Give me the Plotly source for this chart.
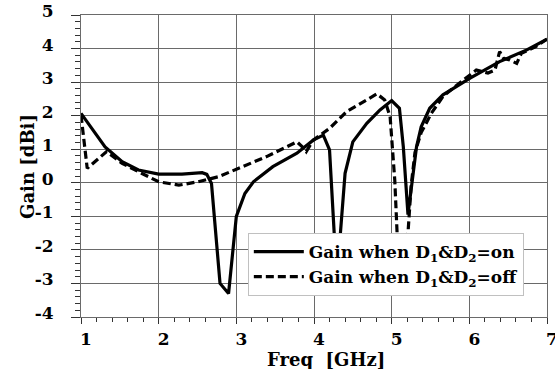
import plotly.graph_objects as go

# Gain when D1&D2 = on (solid)
freq_on = [1.0, 1.14, 1.31, 1.53, 1.74, 2.0, 2.3, 2.56, 2.62, 2.68, 2.79, 2.9, 3.0, 3.11, 3.22,
           3.47, 3.78, 3.99, 4.12, 4.20, 4.26, 4.29, 4.34, 4.40, 4.50, 4.68, 4.85, 5.0, 5.10,
           5.15, 5.21, 5.32, 5.38, 5.49, 5.66, 6.01, 6.39, 6.74, 7.0]
gain_on = [2.07, 1.62, 1.07, 0.63, 0.38, 0.26, 0.26, 0.30, 0.25, -0.02, -3.0, -3.3, -1.0, -0.32, 0.03,
           0.48, 0.88, 1.27, 1.42, 0.98, -1.5, -2.3, -1.5, 0.28, 1.22, 1.77, 2.17, 2.45, 2.22,
           1.07, -0.95, 1.07, 1.67, 2.22, 2.62, 3.12, 3.61, 3.96, 4.28]

# Gain when D1&D2 = off (dashed)
freq_off = [1.0, 1.08, 1.33, 1.53, 1.74, 2.0, 2.26, 2.51, 2.77, 3.03, 3.39, 3.78, 3.86, 3.90, 3.99,
            4.20, 4.42, 4.81, 4.91, 4.98, 5.04, 5.07, 5.13, 5.21, 5.25, 5.30, 5.38, 5.45, 5.51,
            5.66, 5.79, 6.09, 6.24, 6.33, 6.39, 6.44, 6.52, 6.61, 6.67, 6.85, 7.0]
gain_off = [2.02, 0.43, 0.93, 0.58, 0.33, 0.03, -0.07, 0.03, 0.18, 0.43, 0.78, 1.22, 1.05, 0.93, 1.27,
            1.62, 2.12, 2.65, 2.47, 1.97, 0.08, -1.5, -2.0, -1.5, -0.1, 0.9, 1.5, 1.8, 2.07,
            2.57, 2.82, 3.36, 3.27, 3.36, 3.91, 3.71, 3.66, 3.56, 3.86, 4.05, 4.28]

x_ticks = [1, 2, 3, 4, 5, 6, 7]
y_ticks = [-4, -3, -2, -1, 0, 1, 2, 3, 4, 5]

legend_on = "<b>Gain when D<sub>1</sub>&D<sub>2</sub>=on</b>"
legend_off = "<b>Gain when D<sub>1</sub>&D<sub>2</sub>=off</b>"
x_title = "<b>Freq  [GHz]</b>"
y_title = "<b>Gain [dBi]</b>"

FONT = "DejaVu Serif"
GRID = "#6a6a6a"

fig = go.Figure()
fig.add_trace(go.Scatter(x=freq_on, y=gain_on, mode="lines", name=legend_on,
                         line=dict(color="black", width=3.2)))
fig.add_trace(go.Scatter(x=freq_off, y=gain_off, mode="lines", name=legend_off,
                         line=dict(color="black", width=3.2, dash="8px,4px")))

fig.update_layout(
    width=555, height=369,
    margin=dict(l=81, r=8, t=15, b=52, autoexpand=False),
    paper_bgcolor="white", plot_bgcolor="white",
    font=dict(family=FONT, size=17, color="black"),
    showlegend=True,
    legend=dict(x=0.358, y=0.278, xanchor="left", yanchor="top",
                bgcolor="white", bordercolor="#c0c0c0", borderwidth=1,
                font=dict(family=FONT, size=17, color="black"),
                itemwidth=50, tracegroupgap=0),
    annotations=[
        dict(text=x_title, xref="paper", yref="paper", x=0.5258, y=-0.142,
             xanchor="center", yanchor="middle", showarrow=False,
             font=dict(family=FONT, size=18, color="black")),
        dict(text=y_title, xref="paper", yref="paper", x=-0.116, y=0.5,
             xanchor="center", yanchor="middle", showarrow=False, textangle=-90,
             font=dict(family=FONT, size=18, color="black")),
    ],
)

fig.update_xaxes(range=[1, 7], tickvals=x_ticks, ticktext=[f"<b>{v}</b>" for v in x_ticks],
                 automargin=False,
                 showgrid=True, gridcolor=GRID, gridwidth=1,
                 showline=True, linecolor=GRID, linewidth=1, mirror=True,
                 ticks="outside", ticklen=6, tickcolor="#333", tickwidth=1,
                 ticklabelshift=5, ticklabelstandoff=1, ticklabeloverflow="allow",
                 minor=dict(dtick=0.2, ticks="outside", ticklen=4, tickcolor="#333", showgrid=False),
                 zeroline=False, tickfont=dict(family=FONT, size=17))
fig.update_yaxes(range=[-4, 5], tickvals=y_ticks, ticktext=[f"<b>{v}</b>" for v in y_ticks],
                 automargin=False,
                 showgrid=True, gridcolor=GRID, gridwidth=1,
                 showline=True, linecolor=GRID, linewidth=1, mirror=True,
                 ticks="outside", ticklen=9, tickcolor="#333", tickwidth=1,
                 ticklabelstandoff=14, ticklabelshift=-4, ticklabeloverflow="allow",
                 minor=dict(dtick=0.2, ticks="outside", ticklen=5, tickcolor="#333", showgrid=False),
                 zeroline=False, tickfont=dict(family=FONT, size=17))

fig.write_html("out.html")
